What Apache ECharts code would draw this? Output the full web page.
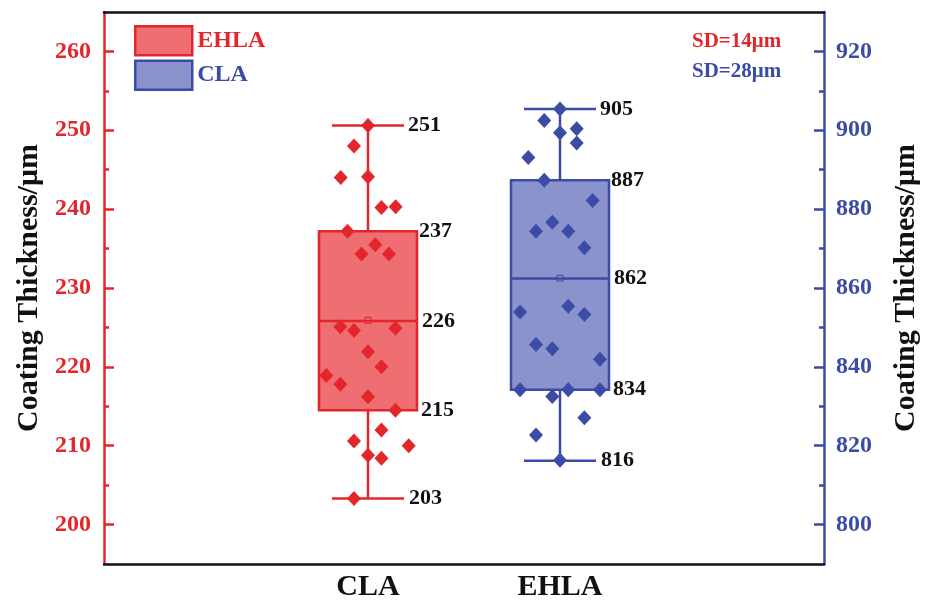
<!DOCTYPE html>
<html>
<head>
<meta charset="utf-8">
<script src="https://cdn.jsdelivr.net/npm/echarts@6/dist/echarts.min.js"></script>
<style>
  html, body { margin: 0; padding: 0; background: #fff; }
  #chart { width: 933px; height: 600px; }
</style>
</head>
<body>
<div id="chart"></div>
<script>
// categories along the bottom, and the (mismatched) legend names as printed
const categories = ['CLA', 'EHLA'];
const legendNames = ['EHLA', 'CLA'];
const sdLabels = ['SD=14μm', 'SD=28μm'];

const leftTicks = [200, 210, 220, 230, 240, 250, 260];
const leftMinorTicks = [205, 215, 225, 235, 245, 255];
const rightTicks = [800, 820, 840, 860, 880, 900, 920];
const rightMinorTicks = [810, 830, 850, 870, 890, 910];

// [x, min, Q1, median, Q3, max, mean]
const claBox = [1, 203.3, 214.5, 225.8, 237.2, 250.6, 225.9];
const ehlaBox = [2, 816.2, 834.2, 862.4, 887.3, 905.4, 862.5];

// individual measurements [x (jittered), thickness]
const claPoints = [
  [1.000, 250.6], [0.927, 248.0], [0.858, 244.0], [1.000, 244.1], [1.070, 240.2],
  [1.144, 240.3], [0.893, 237.2], [1.038, 235.5], [0.966, 234.3], [1.109, 234.3],
  [0.856, 225.1], [0.927, 224.6], [1.143, 224.9], [1.000, 221.9], [1.070, 220.0],
  [0.783, 218.9], [0.856, 217.8], [1.000, 216.2], [1.143, 214.5], [1.070, 212.0],
  [0.927, 210.6], [1.212, 210.0], [1.000, 208.8], [1.070, 208.4], [0.927, 203.3]
];
const ehlaPoints = [
  [2.000, 905.4], [1.918, 902.5], [2.000, 899.4], [2.087, 900.4], [2.087, 896.8],
  [1.835, 893.1], [1.918, 887.3], [2.170, 882.2], [1.960, 876.7], [1.875, 874.4],
  [2.043, 874.4], [2.127, 870.2], [1.792, 853.9], [2.043, 855.4], [2.127, 853.3],
  [1.875, 845.7], [1.960, 844.6], [2.208, 841.9], [1.792, 834.2], [1.960, 832.5],
  [2.043, 834.2], [2.208, 834.2], [2.127, 827.1], [1.875, 822.7], [2.000, 816.3]
];

const RED = '#e3262b';
const RED_FILL = '#ef6e72';
const BLUE = '#3b4ba6';
const BLUE_FILL = '#8a93cc';
const FONT = '"Liberation Serif", "Times New Roman", serif';

function boxRenderer(color, fill) {
  return function (params, api) {
    const x = api.value(0);
    const y = (i) => api.coord([x, api.value(i)])[1];
    const cx = api.coord([x, api.value(3)])[0];
    const yMin = y(1), yQ1 = y(2), yMed = y(3), yQ3 = y(4), yMax = y(5), yMean = y(6);
    const half = 49, cap = 36;
    const line = (x1, y1, x2, y2) => ({
      type: 'line', shape: { x1, y1, x2, y2 },
      style: { stroke: color, lineWidth: 2.5 }
    });
    const label = (i, dx, yy) => ({
      type: 'text', z2: 20,
      style: {
        text: String(Math.round(api.value(i))), x: cx + dx, y: yy,
        fill: '#111', font: 'bold 22px ' + FONT, verticalAlign: 'middle'
      }
    });
    return {
      type: 'group',
      children: [
        { type: 'rect', shape: { x: cx - half, y: yQ3, width: half * 2, height: yQ1 - yQ3 },
          style: { fill: fill, stroke: color, lineWidth: 2.5 } },
        line(cx - half, yMed, cx + half, yMed),
        line(cx, yQ3, cx, yMax),
        line(cx, yQ1, cx, yMin),
        line(cx - cap, yMax, cx + cap, yMax),
        line(cx - cap, yMin, cx + cap, yMin),
        { type: 'rect', shape: { x: cx - 3, y: yMean - 3, width: 6, height: 6 },
          style: { fill: 'none', stroke: color, lineWidth: 1 } },
        label(5, 40, yMax),
        label(4, 51, yQ3),
        label(3, 54, yMed),
        label(2, 53, yQ1),
        label(1, 41, yMin)
      ]
    };
  };
}

function valueAxis(opts) {
  return Object.assign({
    type: 'value',
    splitLine: { show: false },
    axisTick: { show: false },
    axisLabel: { show: false },
    axisLine: { show: false, onZero: false }
  }, opts);
}

const chart = echarts.init(document.getElementById('chart'));

chart.setOption({
  animation: false,
  backgroundColor: '#fff',
  grid: { left: 104, right: 109, top: 12, bottom: 36, outerBoundsMode: 'none' },
  legend: {
    orient: 'vertical',
    left: 134, top: 25,
    padding: 0,
    itemWidth: 57, itemHeight: 29, itemGap: 3,
    selectedMode: false,
    textStyle: { fontFamily: FONT, fontWeight: 'bold', fontSize: 24 },
    data: [
      { name: legendNames[0], icon: 'rect',
        itemStyle: { color: RED_FILL, borderColor: RED, borderWidth: 2.5 },
        textStyle: { color: RED } },
      { name: legendNames[1], icon: 'rect',
        itemStyle: { color: BLUE_FILL, borderColor: BLUE, borderWidth: 2.5 },
        textStyle: { color: BLUE } }
    ]
  },
  graphic: [
    { type: 'text', x: 692, y: 42,
      style: { text: sdLabels[0], fill: RED, font: 'bold 21px ' + FONT, verticalAlign: 'middle' } },
    { type: 'text', x: 692, y: 72,
      style: { text: sdLabels[1], fill: BLUE, font: 'bold 21px ' + FONT, verticalAlign: 'middle' } }
  ],
  xAxis: [
    valueAxis({
      min: -0.375, max: 3.375,
      axisLine: { show: true, onZero: false, lineStyle: { color: '#111', width: 2.5 } },
      axisLabel: {
        show: true, customValues: [1, 2], margin: 8,
        formatter: (v) => categories[Math.round(v) - 1] || '',
        color: '#111', fontFamily: FONT, fontWeight: 'bold', fontSize: 30
      }
    }),
    valueAxis({
      position: 'top', min: -0.375, max: 3.375,
      axisLine: { show: true, onZero: false, lineStyle: { color: '#111', width: 2.5 } }
    })
  ],
  yAxis: [
    valueAxis({
      position: 'left', min: 195, max: 265,
      name: 'Coating Thickness/μm', nameLocation: 'middle', nameRotate: 90, nameGap: 58,
      nameTextStyle: { color: '#111', fontFamily: FONT, fontWeight: 'bold', fontSize: 30 },
      axisLine: { show: true, onZero: false, lineStyle: { color: RED, width: 2.5 } },
      axisTick: { show: true, inside: true, length: 10, customValues: leftTicks,
        lineStyle: { color: RED, width: 2.5 } },
      axisLabel: { show: true, customValues: leftTicks, margin: 13,
        color: RED, fontFamily: FONT, fontWeight: 'bold', fontSize: 24 }
    }),
    valueAxis({
      position: 'right', min: 790, max: 930,
      name: 'Coating Thickness/μm', nameLocation: 'middle', nameRotate: 90, nameGap: 67,
      nameTextStyle: { color: '#111', fontFamily: FONT, fontWeight: 'bold', fontSize: 30 },
      axisLine: { show: true, onZero: false, lineStyle: { color: BLUE, width: 2.5 } },
      axisTick: { show: true, inside: true, length: 10, customValues: rightTicks,
        lineStyle: { color: BLUE, width: 2.5 } },
      axisLabel: { show: true, customValues: rightTicks, margin: 12,
        color: BLUE, fontFamily: FONT, fontWeight: 'bold', fontSize: 24 }
    }),
    // minor ticks
    valueAxis({
      position: 'left', min: 195, max: 265,
      axisTick: { show: true, inside: true, length: 5, customValues: leftMinorTicks,
        lineStyle: { color: RED, width: 2.5 } }
    }),
    valueAxis({
      position: 'right', min: 790, max: 930,
      axisTick: { show: true, inside: true, length: 5, customValues: rightMinorTicks,
        lineStyle: { color: BLUE, width: 2.5 } }
    })
  ],
  series: [
    {
      name: legendNames[0], type: 'custom', xAxisIndex: 0, yAxisIndex: 0,
      itemStyle: { color: RED_FILL },
      renderItem: boxRenderer(RED, RED_FILL),
      data: [claBox], z: 2
    },
    {
      name: legendNames[1], type: 'custom', xAxisIndex: 0, yAxisIndex: 1,
      itemStyle: { color: BLUE_FILL },
      renderItem: boxRenderer(BLUE, BLUE_FILL),
      data: [ehlaBox], z: 2
    },
    {
      name: 'CLA points', type: 'scatter', xAxisIndex: 0, yAxisIndex: 0,
      symbol: 'diamond', symbolSize: [14, 15],
      itemStyle: { color: RED, opacity: 1 },
      data: claPoints, z: 5
    },
    {
      name: 'EHLA points', type: 'scatter', xAxisIndex: 0, yAxisIndex: 1,
      symbol: 'diamond', symbolSize: [14, 15],
      itemStyle: { color: BLUE, opacity: 1 },
      data: ehlaPoints, z: 5
    }
  ]
});

window.addEventListener('resize', () => chart.resize());
</script>
</body>
</html>
